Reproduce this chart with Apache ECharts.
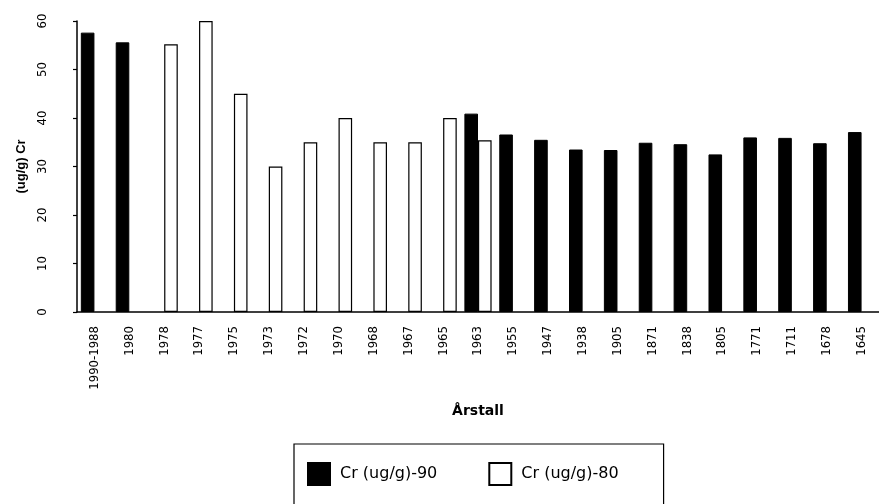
<!DOCTYPE html>
<html>
<head>
<meta charset="utf-8">
<script src="https://cdn.jsdelivr.net/npm/echarts@6/dist/echarts.min.js"></script>
<style>html,body{margin:0;padding:0;background:#fff;}#c{width:879px;height:504px;}</style>
</head>
<body>
<div id="c"></div>
<script>
var categories = ['1990-1988','1980','1978','1977','1975','1973','1972','1970','1968','1967','1965','1963','1955','1947','1938','1905','1871','1838','1805','1771','1711','1678','1645'];
var cr90 = [57.6, 55.6, null, null, null, null, null, null, null, null, null, 40.9, 36.6, 35.5, 33.5, 33.4, 34.9, 34.6, 32.5, 36.0, 35.9, 34.8, 37.1];
var cr80 = [null, null, 55.2, 60, 45, 30, 35, 40, 35, 35, 40, 35.4, null, null, null, null, null, null, null, null, null, null, null];
var yTicks = [0, 10, 20, 30, 40, 50, 60];

var narrow = "'Liberation Sans Narrow', 'DejaVu Sans Condensed', 'Arial Narrow', sans-serif";

var chart = echarts.init(document.getElementById('c'));
chart.setOption({
  backgroundColor: '#fff',
  animation: false,
  grid: { left: 77, top: 21, bottom: 192, right: -3, containLabel: false },
  legend: {
    left: 294, top: 444,
    padding: [18, 45, 40, 13],
    borderColor: '#000', borderWidth: 1.2,
    itemWidth: 22, itemHeight: 22, itemGap: 51,
    icon: 'rect',
    textStyle: { fontSize: 16, fontFamily: "'DejaVu Sans', sans-serif", color: '#000', padding: [0, 0, 0, 5] },
    data: ['Cr (ug/g)-90', 'Cr (ug/g)-80']
  },
  xAxis: {
    type: 'category',
    data: categories,
    name: 'Årstall',
    nameLocation: 'middle',
    nameGap: 92,
    nameTextStyle: { fontSize: 14, fontWeight: 'bold', fontFamily: "'DejaVu Sans', sans-serif", color: '#000' },
    axisLine: { lineStyle: { color: '#000', width: 1.5 } },
    axisTick: { length: 4, lineStyle: { color: '#000', width: 1.2 } },
    axisLabel: { rotate: 90, margin: 14, fontSize: 13, fontFamily: narrow, color: '#000', interval: 0 }
  },
  yAxis: {
    type: 'value',
    min: 0, max: 60, interval: 10,
    name: '(ug/g) Cr',
    nameLocation: 'middle',
    nameGap: 48,
    nameRotate: 90,
    nameTextStyle: { fontSize: 13, fontWeight: 'bold', fontFamily: "'Liberation Sans', Arial, sans-serif", color: '#000' },
    axisLine: { show: true, lineStyle: { color: '#000', width: 1.5 } },
    axisTick: { show: true, length: 4, lineStyle: { color: '#000', width: 1.2 } },
    splitLine: { show: false },
    axisLabel: {
      rotate: 90, margin: 28, fontSize: 13, fontFamily: narrow, color: '#000',
      formatter: function (v) { return yTicks.indexOf(v) >= 0 ? String(v) : ''; }
    }
  },
  series: [
    {
      name: 'Cr (ug/g)-90', type: 'bar', data: cr90,
      barGap: '0%', barCategoryGap: '22%',
      itemStyle: { color: '#000', borderColor: '#000', borderWidth: 1 }
    },
    {
      name: 'Cr (ug/g)-80', type: 'bar', data: cr80,
      barGap: '0%', barCategoryGap: '22%',
      itemStyle: { color: '#fff', borderColor: '#000', borderWidth: 1.2 }
    }
  ]
});
</script>
</body>
</html>
